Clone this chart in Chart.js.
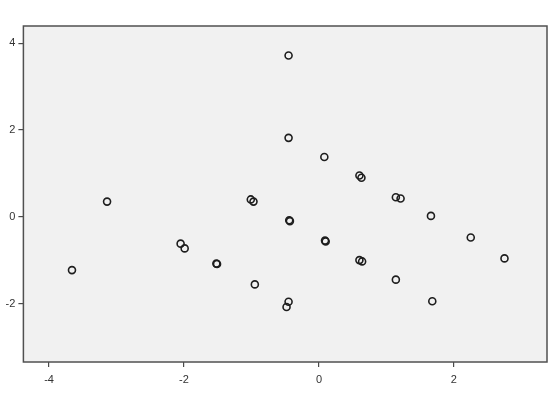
<!DOCTYPE html>
<html>
<head>
<meta charset="utf-8">
<script src="https://cdn.jsdelivr.net/npm/chart.js@4.4.1/dist/chart.umd.min.js"></script>
<style>
  html, body { margin: 0; padding: 0; background: #ffffff; }
  #wrap { width: 549px; height: 396px; }
</style>
</head>
<body>
<div id="wrap"><canvas id="myChart" width="549" height="396"></canvas></div>
<script>
// values (x, y pairs)
const xValues = [-0.45, -0.45, 0.08, 0.60, 0.63, 1.14, 1.21, 1.66, 2.25, 2.75,
                 -3.14, -3.66, -2.05, -1.99, -1.52, -1.51, -1.01, -0.97, -0.44, -0.43,
                 0.09, 0.10, 0.60, 0.64, 1.14, 1.68, -0.95, -0.45, -0.48];
const yValues = [3.72, 1.82, 1.38, 0.95, 0.90, 0.45, 0.42, 0.02, -0.48, -0.96,
                 0.35, -1.23, -0.62, -0.73, -1.08, -1.09, 0.40, 0.35, -0.08, -0.10,
                 -0.55, -0.57, -1.00, -1.03, -1.45, -1.95, -1.56, -1.96, -2.08];
const xTicks = [-4, -2, 0, 2];
const yTicks = [-2, 0, 2, 4];

let ctx = document.getElementById("myChart");

// grey plot area with a dark frame
const frame = {
    id: "frame",
    beforeDatasetsDraw(chart) {
        const a = chart.chartArea;
        const c = chart.ctx;
        c.save();
        c.fillStyle = "#f1f1f1";
        c.fillRect(a.left, a.top, a.right - a.left, a.bottom - a.top);
        c.strokeStyle = "#505050";
        c.lineWidth = 1.5;
        c.strokeRect(a.left, a.top, a.right - a.left, a.bottom - a.top);
        c.restore();
    }
};

let myChart = new Chart(ctx, {
    type: "scatter",
    data: {
        datasets: [
            {
                data: xValues.map((x, i) => ({ x: x, y: yValues[i] })),
                pointStyle: "circle",
                pointRadius: 3.5,
                pointHoverRadius: 3.5,
                borderWidth: 1.6,
                borderColor: "#1e1e1e",
                backgroundColor: "rgba(0,0,0,0)"
            }
        ]
    },
    options: {
        responsive: false,
        animation: false,
        events: [],
        layout: { autoPadding: false, padding: { top: 26, right: 2, left: 0, bottom: 0 } },
        plugins: { legend: { display: false }, tooltip: { enabled: false } },
        scales: {
            x: {
                type: "linear",
                min: -4.38,
                max: 3.38,
                afterFit: (s) => { s.height = 34; s.paddingLeft = 0; s.paddingRight = 0; },
                afterBuildTicks: (s) => { s.ticks = xTicks.map((v) => ({ value: v })); },
                border: { display: false },
                grid: { drawOnChartArea: false, tickLength: 5, color: "#4a4a4a", lineWidth: 1.2 },
                ticks: { padding: 6, color: "#333333", font: { family: "Liberation Sans", size: 11 } }
            },
            y: {
                type: "linear",
                min: -3.35,
                max: 4.40,
                afterFit: (s) => { s.width = 23.4; s.paddingTop = 0; s.paddingBottom = 0; },
                afterBuildTicks: (s) => { s.ticks = yTicks.map((v) => ({ value: v })); },
                border: { display: false },
                grid: { drawOnChartArea: false, tickLength: 5, color: "#4a4a4a", lineWidth: 1.2 },
                ticks: { padding: 3, color: "#333333", font: { family: "Liberation Sans", size: 11 } }
            }
        }
    },
    plugins: [frame]
});
</script>
</body>
</html>
